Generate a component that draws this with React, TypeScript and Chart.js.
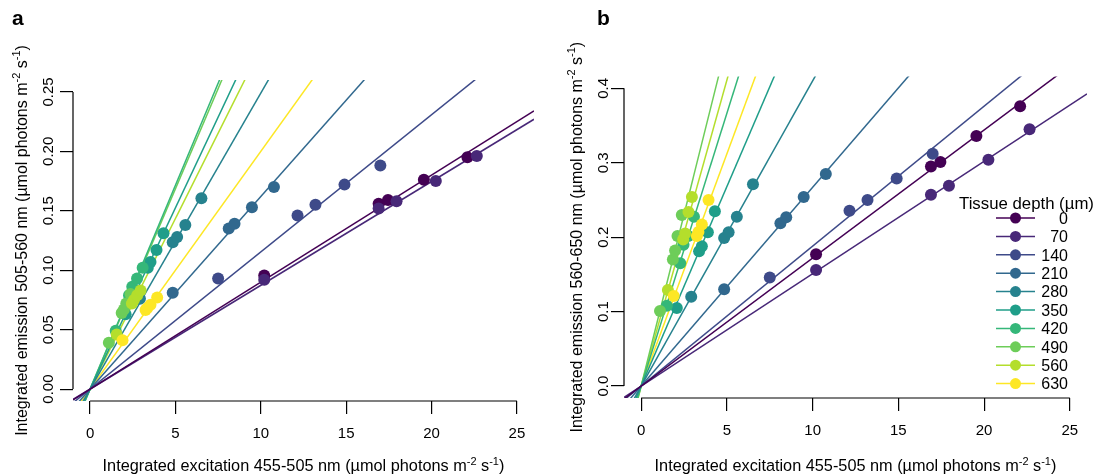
import React, { useEffect, useRef } from "react";
import { Chart, registerables } from "chart.js";
Chart.register(...registerables);

const FONT = '"Liberation Sans", Arial, Helvetica, sans-serif';

const depths = ["0", "70", "140", "210", "280", "350", "420", "490", "560", "630"];
const colors = ["#440154", "#482878", "#3E4A89", "#31688E", "#26828E", "#1F9E89", "#35B779", "#6DCD59", "#B4DE2C", "#FDE725"];

// excitation (x) per tissue depth
const exc0 = [10.2, 16.9, 17.45, 19.55, 22.1];
const exc70 = [10.2, 16.9, 17.95, 20.25, 22.65];
const exc140 = [7.5, 12.15, 13.2, 14.9, 17.0];
const exc210 = [4.84, 8.12, 8.46, 9.48, 10.77];
const exc280 = [2.92, 4.84, 5.1, 5.58, 6.52];
const exc350 = [2.08, 3.38, 3.54, 3.89, 4.3];
const exc420 = [1.5, 2.28, 2.47, 2.75, 3.08];
const exc490 = [1.1, 1.85, 1.98, 2.12, 2.37];
const exc560 = [1.56, 2.45, 2.57, 2.76, 2.96];
const exc630 = [1.9, 3.25, 3.34, 3.54, 3.93];

// panel a: emission 505-560 nm
const emA0 = [0.0955, 0.156, 0.159, 0.176, 0.195];
const emA70 = [0.092, 0.152, 0.158, 0.175, 0.196];
const emA140 = [0.093, 0.146, 0.155, 0.172, 0.188];
const emA210 = [0.081, 0.135, 0.139, 0.153, 0.17];
const emA280 = [0.076, 0.1235, 0.128, 0.138, 0.1605];
const emA350 = [0.063, 0.102, 0.107, 0.117, 0.131];
const emA420 = [0.049, 0.079, 0.086, 0.093, 0.102];
const emA490 = [0.039, 0.064, 0.067, 0.072, 0.08];
const emA560 = [0.046, 0.072, 0.075, 0.079, 0.083];
const emA630 = [0.041, 0.0665, 0.068, 0.071, 0.077];

// panel b: emission 560-650 nm
const emB0 = [0.177, 0.295, 0.301, 0.336, 0.376];
const emB70 = [0.156, 0.257, 0.269, 0.304, 0.345];
const emB140 = [0.146, 0.2355, 0.25, 0.279, 0.312];
const emB210 = [0.13, 0.2186, 0.2267, 0.254, 0.285];
const emB280 = [0.12, 0.199, 0.2065, 0.2275, 0.271];
const emB350 = [0.105, 0.181, 0.188, 0.2065, 0.235];
const emB420 = [0.108, 0.165, 0.19, 0.2015, 0.2275];
const emB490 = [0.101, 0.17, 0.182, 0.2015, 0.2297];
const emB560 = [0.129, 0.197, 0.205, 0.234, 0.254];
const emB630 = [0.121, 0.2015, 0.207, 0.217, 0.25];

// fitted line slopes (lines pass through the origin)
const slopesA = [0.009, 0.00873, 0.01154, 0.0162, 0.0249, 0.0305, 0.0343, 0.0337, 0.0287, 0.02];
const slopesB = [0.0172, 0.0151, 0.0188, 0.0267, 0.041, 0.0536, 0.0733, 0.0922, 0.0822, 0.0624];

const xTicks = [0, 5, 10, 15, 20, 25];
const yTicksA = [0, 0.05, 0.1, 0.15, 0.2, 0.25];
const yTickLabelsA = ["0.00", "0.05", "0.10", "0.15", "0.20", "0.25"];
const yTicksB = [0, 0.1, 0.2, 0.3, 0.4];
const yTickLabelsB = ["0.0", "0.1", "0.2", "0.3", "0.4"];

const xTitle = "Integrated excitation 455-505 nm";
const yTitleA = "Integrated emission 505-560 nm";
const yTitleB = "Integrated emission 560-650 nm";
const legendTitle = "Tissue depth (µm)";

const excitation = [exc0, exc70, exc140, exc210, exc280, exc350, exc420, exc490, exc560, exc630];
const emissionA = [emA0, emA70, emA140, emA210, emA280, emA350, emA420, emA490, emA560, emA630];
const emissionB = [emB0, emB70, emB140, emB210, emB280, emB350, emB420, emB490, emB560, emB630];

const X_MIN = -1;
const X_MAX = 26;

function unitParts(prefix: string) {
  return [
    { t: prefix + " (µmol photons m" },
    { t: "-2", sup: true },
    { t: " s" },
    { t: "-1", sup: true },
    { t: ")" },
  ];
}

function drawRich(ctx: CanvasRenderingContext2D, parts: any[], cx: number, cy: number, rotate: boolean, size: number) {
  const main = `${size}px ${FONT}`;
  const sup = `${Math.round(size * 0.68)}px ${FONT}`;
  let total = 0;
  const widths = parts.map((p) => {
    ctx.font = p.sup ? sup : main;
    const w = ctx.measureText(p.t).width;
    total += w;
    return w;
  });
  ctx.save();
  ctx.translate(cx, cy);
  if (rotate) ctx.rotate(-Math.PI / 2);
  ctx.textBaseline = "alphabetic";
  ctx.textAlign = "left";
  ctx.fillStyle = "#000";
  const base = size * 0.36;
  let x = -total / 2;
  parts.forEach((p, i) => {
    ctx.font = p.sup ? sup : main;
    ctx.fillText(p.t, x, p.sup ? base - size * 0.42 : base);
    x += widths[i];
  });
  ctx.restore();
}

const panelA = {
  letter: "a",
  letterX: 12,
  emission: emissionA,
  slopes: slopesA,
  yMin: -0.01,
  yMax: 0.26,
  yTicks: yTicksA,
  yTickLabels: yTickLabelsA,
  yTitle: yTitleA,
  padTop: 80,
  padRight: 22,
  yWidth: 73,
  xHeight: 75,
  yLabelX: 48,
  yTitleX: 21,
  legend: false,
};

const panelB = {
  letter: "b",
  letterX: 41,
  emission: emissionB,
  slopes: slopesB,
  yMin: -0.016,
  yMax: 0.416,
  yTicks: yTicksB,
  yTickLabels: yTickLabelsB,
  yTitle: yTitleB,
  padTop: 76.4,
  padRight: 25,
  yWidth: 68,
  xHeight: 78,
  yLabelX: 47,
  yTitleX: 20,
  legend: true,
};

function Panel({ cfg }: { cfg: any }) {
  const ref = useRef<HTMLCanvasElement>(null);
  useEffect(() => {
    const datasets: any[] = [];
    depths.forEach((d, i) => {
      const s = cfg.slopes[i];
      datasets.push({
        type: "line",
        label: d + " fit",
        data: [
          { x: X_MIN, y: s * X_MIN },
          { x: X_MAX, y: s * X_MAX },
        ],
        borderColor: colors[i],
        borderWidth: 1.5,
        pointRadius: 0,
        fill: false,
        tension: 0,
        order: 100 + i,
      });
      datasets.push({
        type: "scatter",
        label: d,
        data: excitation[i].map((x, j) => ({ x, y: cfg.emission[i][j] })),
        backgroundColor: colors[i],
        borderColor: colors[i],
        borderWidth: 0,
        pointRadius: 6,
        order: 9 - i,
      });
    });

    const overlay = {
      id: "rStyle",
      afterDraw(chart: any) {
        const ctx = chart.ctx as CanvasRenderingContext2D;
        const xs = chart.scales.x;
        const ys = chart.scales.y;
        const ca = chart.chartArea;
        ctx.save();
        ctx.strokeStyle = "#000";
        ctx.lineWidth = 1.2;
        ctx.beginPath();
        ctx.moveTo(xs.getPixelForValue(xTicks[0]), ca.bottom);
        ctx.lineTo(xs.getPixelForValue(xTicks[xTicks.length - 1]), ca.bottom);
        ctx.moveTo(ca.left, ys.getPixelForValue(cfg.yTicks[0]));
        ctx.lineTo(ca.left, ys.getPixelForValue(cfg.yTicks[cfg.yTicks.length - 1]));
        ctx.stroke();
        ctx.fillStyle = "#000";
        ctx.font = `15px ${FONT}`;
        ctx.textAlign = "center";
        ctx.textBaseline = "alphabetic";
        cfg.yTicks.forEach((v: number, i: number) => {
          const py = ys.getPixelForValue(v);
          ctx.save();
          ctx.translate(cfg.yLabelX, py);
          ctx.rotate(-Math.PI / 2);
          ctx.fillText(cfg.yTickLabels[i], 0, 5.4);
          ctx.restore();
        });
        drawRich(ctx, unitParts(xTitle), (ca.left + ca.right) / 2, 465.5, false, 16.3);
        drawRich(ctx, unitParts(cfg.yTitle), cfg.yTitleX, (ca.top + ca.bottom) / 2, true, 16);
        ctx.font = `bold 21px ${FONT}`;
        ctx.textAlign = "left";
        ctx.textBaseline = "alphabetic";
        ctx.fillText(cfg.letter, cfg.letterX, 25);
        if (cfg.legend) {
          ctx.font = `16.8px ${FONT}`;
          ctx.textAlign = "left";
          ctx.fillText(legendTitle, 403, 209);
          ctx.font = `16px ${FONT}`;
          depths.forEach((d, i) => {
            const y = 218 + 18.4 * i;
            ctx.strokeStyle = colors[i];
            ctx.lineWidth = 1.5;
            ctx.beginPath();
            ctx.moveTo(440, y);
            ctx.lineTo(479, y);
            ctx.stroke();
            ctx.fillStyle = colors[i];
            ctx.beginPath();
            ctx.arc(459.5, y, 5.5, 0, Math.PI * 2);
            ctx.fill();
            ctx.fillStyle = "#000";
            ctx.textAlign = "right";
            ctx.fillText(d, 512, y + 5.8);
          });
        }
        ctx.restore();
      },
    };

    const gridOpts = {
      display: true,
      drawOnChartArea: false,
      drawTicks: true,
      tickLength: 13,
      color: "#000",
      lineWidth: 1.2,
    };

    const chart = new Chart(ref.current as HTMLCanvasElement, {
      type: "scatter",
      data: { datasets },
      options: {
        responsive: false,
        animation: false,
        devicePixelRatio: 1,
        layout: { padding: { left: 0, top: cfg.padTop, right: cfg.padRight, bottom: 0 } },
        plugins: { legend: { display: false }, tooltip: { enabled: false } },
        scales: {
          x: {
            type: "linear",
            min: X_MIN,
            max: X_MAX,
            afterBuildTicks: (s: any) => {
              s.ticks = xTicks.map((v) => ({ value: v }));
            },
            afterFit: (s: any) => {
              s.height = cfg.xHeight;
            },
            grid: gridOpts,
            border: { display: false },
            ticks: {
              font: { family: FONT, size: 15 },
              color: "#000",
              padding: 10.5,
              maxRotation: 0,
              autoSkip: false,
              callback: (v: any) => String(v),
            },
          },
          y: {
            type: "linear",
            min: cfg.yMin,
            max: cfg.yMax,
            afterBuildTicks: (s: any) => {
              s.ticks = cfg.yTicks.map((v: number) => ({ value: v }));
            },
            afterFit: (s: any) => {
              s.width = cfg.yWidth;
            },
            grid: gridOpts,
            border: { display: false },
            ticks: { display: false },
          },
        },
      } as any,
      plugins: [overlay],
    });
    return () => chart.destroy();
  }, []);
  return <canvas ref={ref} width={556} height={476} style={{ display: "block", width: 556, height: 476 }} />;
}

export default function App() {
  return (
    <div style={{ position: "fixed", left: 0, top: 0, width: 1112, height: 476, display: "flex", background: "#fff" }}>
      <Panel cfg={panelA} />
      <Panel cfg={panelB} />
    </div>
  );
}
